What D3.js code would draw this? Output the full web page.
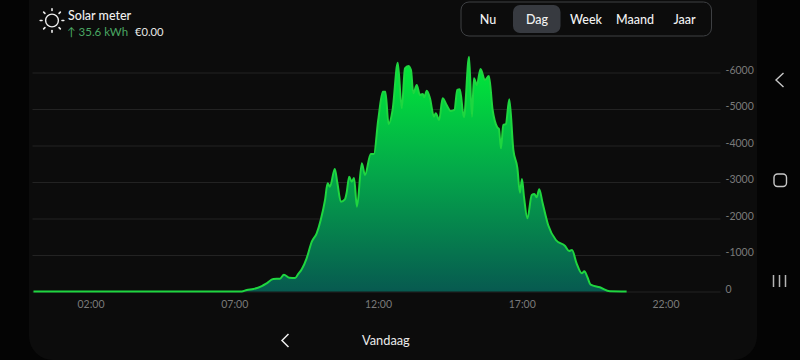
<!DOCTYPE html>
<html><head><meta charset="utf-8">
<script src="https://cdn.jsdelivr.net/npm/d3@7/dist/d3.min.js"></script>
<style>html,body{margin:0;padding:0;background:#040404;overflow:hidden}svg{display:block}text{font-family:Lato,sans-serif}</style>
</head><body><svg id="c" width="800" height="360"></svg>
<script>
const title = "Solar meter";
const energyLabel = "↑ 35.6 kWh";
const costLabel = "€0.00";
const tabs = ["Nu","Dag","Week","Maand","Jaar"];
const activeTab = "Dag";
const dateLabel = "Vandaag";
const xTickHours = [2,7,12,17,22];
const xTickLabels = ["02:00","07:00","12:00","17:00","22:00"];
const yTickValues = [0,1000,2000,3000,4000,5000,6000];
const yTickLabels = ["0","-1000","-2000","-3000","-4000","-5000","-6000"];
const hours = [0,7.24,7.42,7.65,7.94,8.11,8.34,8.57,8.71,8.90,9.10,9.21,9.33,9.50,9.68,9.85,9.99,10.14,10.23,10.31,10.48,10.57,10.69,10.83,10.89,10.98,11.07,11.15,11.25,11.42,11.53,11.73,11.84,11.99,12.15,12.24,12.35,12.49,12.67,12.81,12.92,13.04,13.13,13.21,13.33,13.44,13.54,13.59,13.68,13.79,13.93,13.99,14.11,14.23,14.37,14.51,14.64,14.74,14.83,14.97,15.15,15.25,15.32,15.42,15.55,15.70,15.84,15.97,16.13,16.19,16.26,16.34,16.43,16.55,16.69,16.83,16.92,16.99,17.06,17.18,17.33,17.42,17.50,17.59,17.71,17.90,18.17,18.49,18.63,18.73,18.89,19.07,19.16,19.26,19.38,19.70,20.05,20.63];
const watts = [0,0,41,68,150,225,342,350,460,378,370,480,608,910,1364,1595,1959,2507,2964,2871,3356,2973,2460,2526,2699,3145,3008,3110,2323,3512,3192,3767,3767,4699,5474,5474,4589,4973,6268,5019,6115,6178,6068,5430,5658,5384,5411,5321,5501,5293,4789,4882,4699,5293,5110,4945,4973,5521,5540,4773,6433,4789,5841,5658,6096,5795,5904,4973,4499,4452,3923,4562,4589,5266,3877,3384,2707,3082,2597,2005,2644,2671,2581,2800,2416,1822,1411,1247,1110,1137,773,499,553,405,186,115,5,0];

const svg = d3.select("#c");
const x = d3.scaleLinear().domain([0,24]).range([33.5,723.5]);
const y = d3.scaleLinear().domain([0,6000]).range([291.5,72.5]);
const pts = hours.map((h,i)=>({h,w:watts[i]}));

const defs = svg.append("defs");
const g = defs.append("linearGradient").attr("id","fill").attr("gradientUnits","userSpaceOnUse")
  .attr("x1",0).attr("x2",0).attr("y1",y(6400)).attr("y2",y(0));
g.append("stop").attr("offset",0).attr("stop-color","#00ec38");
g.append("stop").attr("offset",0.5).attr("stop-color","#04a64a");
g.append("stop").attr("offset",1).attr("stop-color","#075a50");

svg.append("rect").attr("x",29).attr("y",-30).attr("width",728).attr("height",390).attr("rx",24).attr("fill","#0c0c0c");

// y axis
const yAxis = d3.axisRight(y).tickValues(yTickValues).tickSize(0).tickPadding(0)
  .tickFormat((d,i)=>yTickLabels[i]);
const ya = svg.append("g").attr("transform","translate(725.5,0)").call(yAxis);
ya.select(".domain").remove();
ya.selectAll("text").attr("fill","#7a7a7a").attr("font-size",10.5).attr("dy","0.05em");
ya.selectAll(".tick").append("line").attr("x1",-693).attr("x2",-5).attr("y1",0).attr("y2",0).attr("stroke","#232323").attr("stroke-width",1);

// x axis
const xAxis = d3.axisBottom(x).tickValues(xTickHours).tickSize(0).tickPadding(0)
  .tickFormat((d,i)=>xTickLabels[i]);
const xa = svg.append("g").attr("transform","translate(-0.5,301)").call(xAxis);
xa.select(".domain").remove();
xa.selectAll("text").attr("fill","#7a7a7a").attr("font-size",10.5);

// area + line
const curve = d3.curveMonotoneX;
svg.append("path").datum(pts).attr("fill","url(#fill)")
  .attr("d",d3.area().x(d=>x(d.h)).y0(y(0)).y1(d=>y(d.w)).curve(curve));
svg.append("path").datum(pts).attr("fill","none").attr("stroke","#1fd640").attr("stroke-width",2)
  .attr("stroke-linejoin","round")
  .attr("d",d3.line().x(d=>x(d.h)).y(d=>y(d.w)).curve(curve));

// header
const sun = svg.append("g").attr("transform","translate(52,20.5)");
sun.append("circle").attr("r",6.4).attr("fill","none").attr("stroke","#eee").attr("stroke-width",1.4);
d3.range(8).forEach(i=>{
  const a=i*Math.PI/4;
  sun.append("line").attr("x1",Math.cos(a)*10).attr("y1",Math.sin(a)*10)
    .attr("x2",Math.cos(a)*11.8).attr("y2",Math.sin(a)*11.8)
    .attr("stroke","#eee").attr("stroke-width",1.6).attr("stroke-linecap","round");
});
svg.append("text").attr("x",68).attr("y",20).attr("fill","#f0f0f0").attr("font-size",12.5).attr("font-weight",500).text(title);
svg.append("text").attr("x",67).attr("y",36).attr("fill","#4aa763").attr("font-size",11.5).text(energyLabel);
svg.append("text").attr("x",135).attr("y",36).attr("fill","#e8e8e8").attr("font-size",11.2).text(costLabel);

// tabs
svg.append("rect").attr("x",461).attr("y",2).attr("width",250.5).attr("height",34).attr("rx",8).attr("fill","none").attr("stroke","#3e4043").attr("stroke-width",1);
svg.append("rect").attr("x",513).attr("y",5).attr("width",47.5).attr("height",28).attr("rx",7).attr("fill","#373a40");
const tabCenters = [488,537,586,635,684.5];
svg.selectAll(".tab").data(tabs).enter().append("text").attr("class","tab")
  .attr("x",(d,i)=>tabCenters[i]).attr("y",24).attr("text-anchor","middle")
  .attr("fill","#f2f2f2").attr("font-size",12.5).attr("font-weight",500).text(d=>d);

// bottom nav
svg.append("path").attr("d","M288.5,334 L282,340.5 L288.5,347").attr("fill","none").attr("stroke","#eee").attr("stroke-width",1.5);
svg.append("text").attr("x",362).attr("y",345).attr("fill","#eaeaea").attr("font-size",12.8).text(dateLabel);

// system bar
svg.append("path").attr("d","M783.5,73 L776,80 L783.5,87").attr("fill","none").attr("stroke","#c8c8c8").attr("stroke-width",1.4);
svg.append("rect").attr("x",774).attr("y",174).attr("width",12.5).attr("height",12.5).attr("rx",3.5).attr("fill","none").attr("stroke","#c8c8c8").attr("stroke-width",1.4);
[773.5,779.5,785.5].forEach(v=>svg.append("line").attr("x1",v).attr("x2",v).attr("y1",275).attr("y2",287).attr("stroke","#b5b5b5").attr("stroke-width",1.5));
</script></body></html>
